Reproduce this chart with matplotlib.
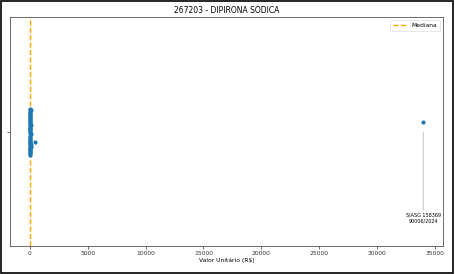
import matplotlib
matplotlib.use("Agg")
import matplotlib.pyplot as plt
from matplotlib.patches import Rectangle

# precos unitarios (R$) e deslocamento vertical (jitter) de cada ponto
valores = [0.12, 0.15, 0.18, 0.22, 0.25, 0.3, 0.35, 0.4, 0.45, 0.5,
           0.6, 0.75, 0.9, 1.1, 1.3, 1.6, 2.0, 2.4, 3.0, 3.5,
           4.2, 5.0, 6.5, 8.0, 9.5, 12.0, 15.0, 18.0, 22.0, 28.0,
           35.0, 42.0, 55.0, 70.0, 95.0, 120.0, 0.8, 1.9, 2.7, 0.33,
           0.28, 1.45, 3.3, 0.62, 5.5, 0.2, 7.1, 2.2, 0.95, 130.0,
           460.0, 34025.0]
jitter = [0.100, -0.096, 0.088, -0.084, 0.076, -0.070, 0.062, -0.056, 0.048, -0.042,
          0.036, -0.030, 0.024, -0.018, 0.012, -0.006, 0.002, 0.094, -0.090, 0.068,
          -0.076, 0.042, -0.048, 0.018, -0.024, 0.082, -0.062, 0.030, -0.036, 0.054,
          -0.100, 0.006, 0.096, -0.012, 0.028, -0.066, 0.080, -0.080, 0.058, -0.052,
          0.040, -0.034, 0.014, -0.088, 0.070, -0.072, 0.050, 0.000, -0.044, -0.060,
          -0.047, 0.041]
mediana = 2.2
rotulo_outlier = "SIASG 158369\n90006/2024"

fig = plt.figure(figsize=(4.55, 2.74), dpi=100)
ax = fig.add_axes([0.0226, 0.102, 0.951, 0.835])

ax.scatter(valores, jitter, s=9, color='#1f77b4', zorder=3, linewidths=0)
ax.axvline(mediana, color='orange', linestyle='--', linewidth=1, label='Mediana', zorder=2)

ax.annotate(rotulo_outlier, xy=(valores[-1], jitter[-1]), xytext=(valores[-1], -0.355),
            ha='center', va='top', fontsize=3.5, linespacing=1.1,
            arrowprops=dict(arrowstyle='-', color='#cccccc', lw=0.8, shrinkA=0, shrinkB=7))

ax.set_ylim(-0.5, 0.5)
ax.set_yticks([0])
ax.set_yticklabels([''])
ax.set_xticks([0, 5000, 10000, 15000, 20000, 25000, 30000, 35000])
ax.tick_params(axis='both', labelsize=4.3, length=2, width=0.5, pad=1.5, colors='#333333')
for s in ax.spines.values():
    s.set_linewidth(0.6)
    s.set_color('#555555')

ax.set_title('267203 - DIPIRONA SÓDICA', fontsize=5.5, pad=3)
ax.set_xlabel('Valor Unitário (R$)', fontsize=4.3, labelpad=1.5)
leg = ax.legend(loc='upper right', fontsize=4.3, handlelength=2.2, borderpad=0.5)
leg.get_frame().set_linewidth(0.4)

fig.patches.append(Rectangle((0.002, 0.004), 0.993, 0.992, transform=fig.transFigure,
                             fill=False, edgecolor='black', linewidth=1.2))

fig.savefig('out.png', dpi=100)
